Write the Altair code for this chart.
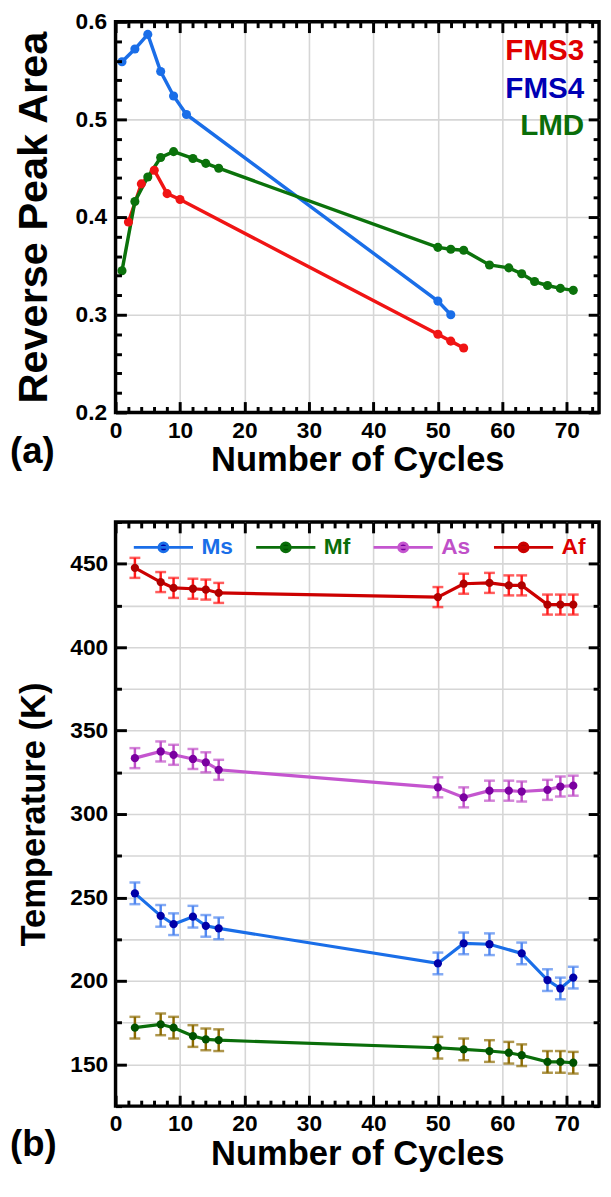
import altair as alt
import pandas as pd

FONT = "Liberation Sans"

# ---------------- Panel (a): Reverse peak area ----------------
a_series = ["FMS3", "FMS4", "LMD"]
fms3_x = [2, 4, 6, 8, 10, 50, 52, 54]
fms3_y = [0.395, 0.434, 0.448, 0.424, 0.418, 0.280, 0.273, 0.266]
fms4_x = [1, 3, 5, 7, 9, 11, 50, 52]
fms4_y = [0.559, 0.572, 0.587, 0.549, 0.524, 0.505, 0.314, 0.300]
lmd_x = [1, 3, 5, 7, 9, 12, 14, 16, 50, 52, 54, 58, 61, 63, 65, 67, 69, 71]
lmd_y = [0.345, 0.416, 0.441, 0.461, 0.467, 0.460, 0.455, 0.450, 0.369, 0.367,
         0.366, 0.351, 0.348, 0.342, 0.334, 0.330, 0.327, 0.325]
a_line_colors = ["#f01414", "#1a6ee8", "#0b720b"]
a_label_colors = ["#e00000", "#0000b4", "#0a6e0a"]

# ---------------- Panel (b): Transformation temperatures ----------------
b_series = ["Ms", "Mf", "As", "Af"]
ms_x = [3, 7, 9, 12, 14, 16, 50, 54, 58, 63, 67, 69, 71]
ms_y = [252.5, 239, 234, 238.5, 233, 231.5, 210.5, 222.5, 222, 216.5, 200.5, 195.5, 202]
ms_err = [6.5, 6.5, 6.5, 6.5, 6.5, 6.5, 6.5, 6.5, 6.5, 6.5, 6.5, 6.5, 6.5]
cyc_x = [3, 7, 9, 12, 14, 16, 50, 54, 58, 61, 63, 67, 69, 71]
mf_y = [172, 174, 172, 167, 165, 164.5, 160, 159, 158, 157, 155.5, 151.5, 151.5, 151]
mf_err = [6.5, 6.5, 6.5, 6.5, 6.5, 6.5, 6.5, 6.5, 6.5, 6.5, 6.5, 6.5, 6.5, 6.5]
as_y = [333.5, 337.5, 335.5, 333, 331, 326.5, 316, 310, 314, 314, 313.5, 314.5, 316.5, 317]
as_err = [6, 6, 6, 6, 6, 6, 6, 6, 6, 6, 6, 6, 6, 6]
af_y = [447.5, 439, 435.5, 435, 434.5, 432.5, 430, 438, 438.5, 437, 437, 425.5, 425.5, 425.5]
af_err = [6, 6, 6, 6, 6, 6, 6, 6, 6, 6, 6, 6, 6, 6]
b_line_colors = ["#1a6ee8", "#0a6e0a", "#c455cf", "#cc0000"]
b_dot_colors = ["#0000a8", "#005200", "#7a00a0", "#b00000"]
b_err_colors = ["#4f86f0", "#8b6a00", "#c050c8", "#ff1a1a"]
b_label_colors = ["#1a6ee8", "#0a6e0a", "#c050c8", "#dd0000"]

# ---------------- axis tick values (major + minor) ----------------
x_ticks = [0, 2, 4, 6, 8, 10, 12, 14, 16, 18, 20, 22, 24, 26, 28, 30, 32, 34, 36, 38,
           40, 42, 44, 46, 48, 50, 52, 54, 56, 58, 60, 62, 64, 66, 68, 70, 72, 74]
ya_ticks = [0.2, 0.22, 0.24, 0.26, 0.28, 0.3, 0.32, 0.34, 0.36, 0.38, 0.4, 0.42, 0.44,
            0.46, 0.48, 0.5, 0.52, 0.54, 0.56, 0.58, 0.6]
yb_ticks = [125, 150, 175, 200, 225, 250, 275, 300, 325, 350, 375, 400, 425, 450, 475]

# ---------------- tables ----------------
rows = []
for s, xs, ys in zip(a_series, [fms3_x, fms4_x, lmd_x], [fms3_y, fms4_y, lmd_y]):
    for x, y in zip(xs, ys):
        rows.append({"series": s, "x": x, "y": y})
df_a = pd.DataFrame(rows)

rows = []
for s, xs, ys, es in zip(b_series, [ms_x, cyc_x, cyc_x, cyc_x],
                         [ms_y, mf_y, as_y, af_y], [ms_err, mf_err, as_err, af_err]):
    for x, y, e in zip(xs, ys, es):
        rows.append({"series": s, "x": x, "y": y, "lo": y - e, "hi": y + e})
df_b = pd.DataFrame(rows)

W = 490
HA = 396
HB = 592
MAJ_LEN = 11
MIN_LEN = 6
TICK_COLOR = "black"


def rule(keys, vals):
    return ([{"test": f"datum.value === '{k}'", "value": v}
             for k, v in zip(keys[:-1], vals[:-1])] + [{"value": vals[-1]}])


LEGEND_ENCODE = {
    "LEG_A": {"labels": {"update": {"fill": rule(a_series, a_label_colors)}}},
    "LEG_B": {
        "labels": {"update": {"fill": rule(b_series, b_label_colors)}},
        "symbols": {"update": {"fill": rule(b_series, b_dot_colors),
                               "stroke": rule(b_series, b_line_colors),
                               "strokeWidth": {"value": 3},
                               "opacity": {"value": 1}}},
    },
}


def patch(obj):
    if isinstance(obj, dict):
        leg = obj.get("legend")
        if isinstance(leg, dict) and leg.get("description") in LEGEND_ENCODE:
            leg["encode"] = LEGEND_ENCODE[leg["description"]]
        ts = obj.get("tickSize")
        if isinstance(ts, dict) and "condition" in ts:
            # negative tick length => ticks point into the plot
            ts["condition"]["value"] = -abs(ts["condition"]["value"])
            ts["value"] = -abs(ts["value"])
        for v in obj.values():
            patch(v)
    elif isinstance(obj, list):
        for v in obj:
            patch(v)


class PatchedVConcat(alt.VConcatChart):
    def to_dict(self, *args, **kwargs):
        d = super().to_dict(*args, **kwargs)
        patch(d)
        return d


def tick_len(major_test):
    return {"condition": {"test": major_test, "value": MAJ_LEN}, "value": MIN_LEN}


def main_axis(orient, values, title, major_test, grid_off_test, fmt=None,
              title_pad=3, lab_gap=10, title_size=35):
    """Labels, title and grid (behind the marks); no ticks."""
    kw = dict(orient=orient, values=values, title=title, domain=False, ticks=False,
              grid=True, gridColor="#d6d6d6", gridWidth=1.6,
              gridOpacity={"condition": {"test": grid_off_test, "value": 0}, "value": 1},
              labelExpr=f"({major_test}) ? datum.label : ''",
              labelFont=FONT, labelFontSize=23, labelFontWeight="bold",
              labelColor="black", labelPadding=lab_gap, labelFlush=False,
              labelOverlap=False,
              titleFont=FONT, titleFontSize=title_size, titleFontWeight="bold",
              titleColor="black", titlePadding=title_pad)
    if fmt:
        kw["format"] = fmt
    return alt.Axis(**kw)


def tick_axis(orient, values, major_test):
    """Inward major/minor ticks only, drawn above the marks."""
    return alt.Axis(orient=orient, values=values, title=None, domain=False, grid=False,
                    labels=False, ticks=True, tickColor=TICK_COLOR, tickWidth=3,
                    tickSize=tick_len(major_test), zindex=2)


def panel_title(txt):
    return alt.TitleParams(text=txt, orient="bottom", anchor="start", frame="group",
                           font=FONT, fontSize=37, fontWeight="bold", color="black",
                           dx=-107, dy=-44, offset=0)


VIEW = alt.ViewBackground(stroke="black", strokeWidth=3.5)

X_MAJ = "datum.value % 10 === 0"
X_GRID_OFF = "datum.value % 10 !== 0 || datum.value < 1"

# ---------------- chart (a) ----------------
xs_a = alt.Scale(domain=[0, 75], nice=False, zero=False)
ys_a = alt.Scale(domain=[0.2, 0.6], nice=False, zero=False)
YA_MAJ = "abs(datum.value * 10 - round(datum.value * 10)) < 0.001"
YA_GRID_OFF = f"!({YA_MAJ}) || datum.value < 0.25 || datum.value > 0.55"

legend_a = alt.Legend(
    title=None, orient="top-right", offset=15, padding=0, description="LEG_A",
    symbolSize=0, symbolOpacity=0, symbolStrokeWidth=0,
    labelFont=FONT, labelFontSize=30, labelFontWeight="bold",
    labelAlign="right", labelOffset=0, rowPadding=8,
)

lines_a = alt.Chart(df_a).mark_line(strokeWidth=3.5).encode(
    x=alt.X("x:Q", scale=xs_a,
            axis=main_axis("bottom", x_ticks, "Number of Cycles", X_MAJ, X_GRID_OFF,
                           title_pad=1, lab_gap=7)),
    y=alt.Y("y:Q", scale=ys_a,
            axis=main_axis("left", ya_ticks, "Reverse Peak Area", YA_MAJ, YA_GRID_OFF,
                           fmt=".1f", title_pad=20, lab_gap=9, title_size=42)),
    color=alt.Color("series:N", scale=alt.Scale(domain=a_series, range=a_line_colors),
                    legend=legend_a),
)
pts_a = alt.Chart(df_a).mark_circle(size=85, opacity=1).encode(
    x=alt.X("x:Q", scale=xs_a, axis=tick_axis("top", x_ticks, X_MAJ)),
    y=alt.Y("y:Q", scale=ys_a, axis=tick_axis("right", ya_ticks, YA_MAJ)),
    color=alt.Color("series:N", scale=alt.Scale(domain=a_series, range=a_line_colors),
                    legend=None),
)
ticks_a = alt.Chart(df_a).mark_point(opacity=0, size=1).encode(
    x=alt.X("x:Q", scale=xs_a, axis=tick_axis("bottom", x_ticks, X_MAJ)),
    y=alt.Y("y:Q", scale=ys_a, axis=tick_axis("left", ya_ticks, YA_MAJ)),
)

chart_a = alt.layer(lines_a, pts_a, ticks_a).resolve_axis(
    x="independent", y="independent").properties(
    width=W, height=HA, title=panel_title("(a)"), view=VIEW)

# ---------------- chart (b) ----------------
xs_b = alt.Scale(domain=[0, 75], nice=False, zero=False)
ys_b = alt.Scale(domain=[125, 475], nice=False, zero=False)
YB_MAJ = "datum.value % 50 === 0"
YB_GRID_OFF = "datum.value < 130 || datum.value > 470"

SYM = "M-1,0H3M1.3,0A0.3,0.3,0,1,1,0.7,0A0.3,0.3,0,1,1,1.3,0Z"
legend_b = alt.Legend(
    title=None, orient="none", legendX=17, legendY=9, direction="horizontal",
    padding=0, description="LEG_B",
    symbolType=SYM, symbolSize=900, symbolStrokeWidth=3,
    labelFont=FONT, labelFontSize=23, labelFontWeight="bold",
    labelOffset=37, columnPadding=17,
)

lines_b = alt.Chart(df_b).mark_line(strokeWidth=3.2).encode(
    x=alt.X("x:Q", scale=xs_b,
            axis=main_axis("bottom", x_ticks, "Number of Cycles", X_MAJ, X_GRID_OFF,
                           title_pad=1, lab_gap=7)),
    y=alt.Y("y:Q", scale=ys_b,
            axis=main_axis("left", yb_ticks, "Temperature (K)", YB_MAJ, YB_GRID_OFF,
                           title_pad=19, lab_gap=8)),
    color=alt.Color("series:N", scale=alt.Scale(domain=b_series, range=b_line_colors),
                    legend=legend_b),
)
err_b = alt.Chart(df_b).mark_errorbar(ticks=True, size=11, thickness=2.5).encode(
    x=alt.X("x:Q", scale=xs_b, axis=None),
    y=alt.Y("lo:Q", scale=ys_b, axis=None),
    y2="hi:Q",
    color=alt.Color("series:N", scale=alt.Scale(domain=b_series, range=b_err_colors),
                    legend=None),
)
pts_b = alt.Chart(df_b).mark_circle(size=70, opacity=1).encode(
    x=alt.X("x:Q", scale=xs_b, axis=tick_axis("top", x_ticks, X_MAJ)),
    y=alt.Y("y:Q", scale=ys_b, axis=tick_axis("right", yb_ticks, YB_MAJ)),
    color=alt.Color("series:N", scale=alt.Scale(domain=b_series, range=b_dot_colors),
                    legend=None),
)
ticks_b = alt.Chart(df_b).mark_point(opacity=0, size=1).encode(
    x=alt.X("x:Q", scale=xs_b, axis=tick_axis("bottom", x_ticks, X_MAJ)),
    y=alt.Y("y:Q", scale=ys_b, axis=tick_axis("left", yb_ticks, YB_MAJ)),
)

chart_b = alt.layer(lines_b, err_b, pts_b, ticks_b).resolve_scale(
    color="independent").resolve_axis(x="independent", y="independent").properties(
    width=W, height=HB, title=panel_title("(b)"), view=VIEW)

chart = PatchedVConcat(vconcat=[chart_a, chart_b], spacing=30).properties(
    padding={"left": 0, "top": -7, "right": 0, "bottom": 0},
    background="white",
).configure_view(stroke="black", strokeWidth=3.5)

chart.save("out.html", embed_options={"renderer": "svg", "actions": False})
